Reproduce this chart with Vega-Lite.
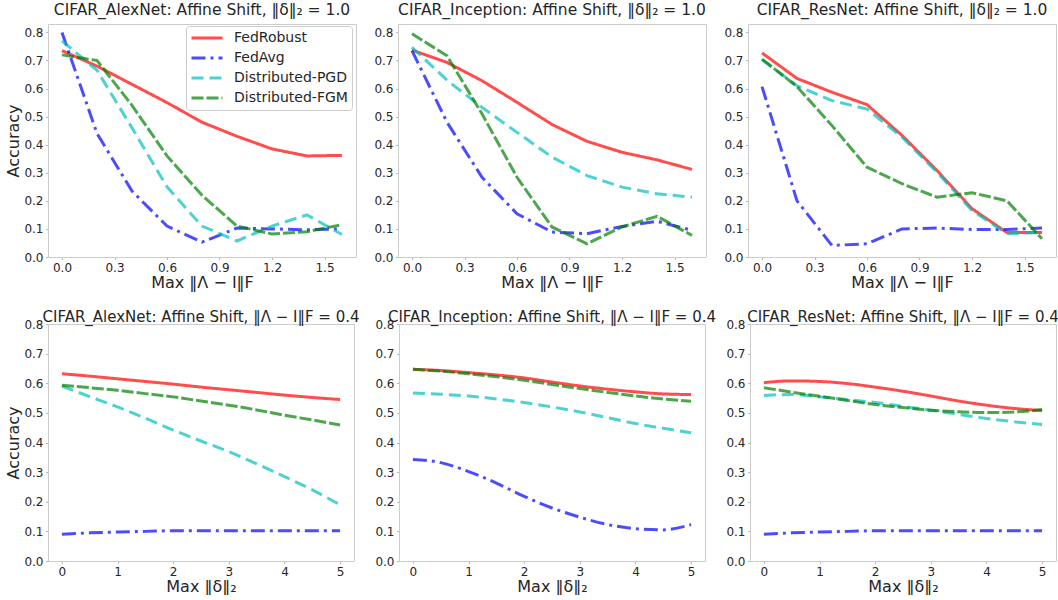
{
  "$schema": "https://vega.github.io/schema/vega-lite/v6.json",
  "background": "white",
  "padding": {"left": 5, "top": 2, "right": 0, "bottom": 0},
  "config": {
    "font": "DejaVu Sans",
    "view": {"stroke": "#cccccc", "strokeWidth": 1},
    "axis": {"domain": false, "grid": false, "ticks": true, "tickColor": "#bbbbbb", "tickSize": 2.5, "labelFontSize": 12, "labelColor": "#262626", "labelPadding": 2.5, "titleFontSize": 16, "titleFontWeight": "normal", "titleColor": "#262626"},
    "axisX": {"titlePadding": 1, "labelFlush": false},
    "axisY": {"titlePadding": 2, "labelFlush": false},
    "title": {"fontSize": 15.5, "fontWeight": "normal", "color": "#262626", "offset": 6},
    "line": {"strokeWidth": 3, "opacity": 0.7}
  },
  "data": {"values": [
    {"panel":"A1","method":"FedRobust","x":0,"acc":0.735},{"panel":"A1","method":"FedRobust","x":0.2,"acc":0.68},{"panel":"A1","method":"FedRobust","x":0.4,"acc":0.615},{"panel":"A1","method":"FedRobust","x":0.6,"acc":0.55},{"panel":"A1","method":"FedRobust","x":0.8,"acc":0.48},{"panel":"A1","method":"FedRobust","x":1.0,"acc":0.43},{"panel":"A1","method":"FedRobust","x":1.2,"acc":0.385},{"panel":"A1","method":"FedRobust","x":1.4,"acc":0.36},{"panel":"A1","method":"FedRobust","x":1.6,"acc":0.362},
    {"panel":"A1","method":"FedAvg","x":0,"acc":0.8},{"panel":"A1","method":"FedAvg","x":0.2,"acc":0.44},{"panel":"A1","method":"FedAvg","x":0.4,"acc":0.235},{"panel":"A1","method":"FedAvg","x":0.6,"acc":0.11},{"panel":"A1","method":"FedAvg","x":0.8,"acc":0.053},{"panel":"A1","method":"FedAvg","x":1.0,"acc":0.103},{"panel":"A1","method":"FedAvg","x":1.2,"acc":0.1},{"panel":"A1","method":"FedAvg","x":1.4,"acc":0.097},{"panel":"A1","method":"FedAvg","x":1.6,"acc":0.1},
    {"panel":"A1","method":"Distributed-PGD","x":0,"acc":0.77},{"panel":"A1","method":"Distributed-PGD","x":0.2,"acc":0.665},{"panel":"A1","method":"Distributed-PGD","x":0.4,"acc":0.46},{"panel":"A1","method":"Distributed-PGD","x":0.6,"acc":0.25},{"panel":"A1","method":"Distributed-PGD","x":0.8,"acc":0.11},{"panel":"A1","method":"Distributed-PGD","x":1.0,"acc":0.057},{"panel":"A1","method":"Distributed-PGD","x":1.2,"acc":0.11},{"panel":"A1","method":"Distributed-PGD","x":1.4,"acc":0.15},{"panel":"A1","method":"Distributed-PGD","x":1.6,"acc":0.08},
    {"panel":"A1","method":"Distributed-FGM","x":0,"acc":0.72},{"panel":"A1","method":"Distributed-FGM","x":0.2,"acc":0.7},{"panel":"A1","method":"Distributed-FGM","x":0.4,"acc":0.54},{"panel":"A1","method":"Distributed-FGM","x":0.6,"acc":0.36},{"panel":"A1","method":"Distributed-FGM","x":0.8,"acc":0.22},{"panel":"A1","method":"Distributed-FGM","x":1.0,"acc":0.11},{"panel":"A1","method":"Distributed-FGM","x":1.2,"acc":0.082},{"panel":"A1","method":"Distributed-FGM","x":1.4,"acc":0.09},{"panel":"A1","method":"Distributed-FGM","x":1.6,"acc":0.115},

    {"panel":"I1","method":"FedRobust","x":0,"acc":0.737},{"panel":"I1","method":"FedRobust","x":0.2,"acc":0.693},{"panel":"I1","method":"FedRobust","x":0.4,"acc":0.628},{"panel":"I1","method":"FedRobust","x":0.6,"acc":0.551},{"panel":"I1","method":"FedRobust","x":0.8,"acc":0.472},{"panel":"I1","method":"FedRobust","x":1.0,"acc":0.412},{"panel":"I1","method":"FedRobust","x":1.2,"acc":0.373},{"panel":"I1","method":"FedRobust","x":1.4,"acc":0.346},{"panel":"I1","method":"FedRobust","x":1.6,"acc":0.312},
    {"panel":"I1","method":"FedAvg","x":0,"acc":0.735},{"panel":"I1","method":"FedAvg","x":0.2,"acc":0.48},{"panel":"I1","method":"FedAvg","x":0.4,"acc":0.284},{"panel":"I1","method":"FedAvg","x":0.6,"acc":0.154},{"panel":"I1","method":"FedAvg","x":0.8,"acc":0.089},{"panel":"I1","method":"FedAvg","x":1.0,"acc":0.083},{"panel":"I1","method":"FedAvg","x":1.2,"acc":0.109},{"panel":"I1","method":"FedAvg","x":1.4,"acc":0.127},{"panel":"I1","method":"FedAvg","x":1.6,"acc":0.095},
    {"panel":"I1","method":"Distributed-PGD","x":0,"acc":0.747},{"panel":"I1","method":"Distributed-PGD","x":0.2,"acc":0.63},{"panel":"I1","method":"Distributed-PGD","x":0.4,"acc":0.533},{"panel":"I1","method":"Distributed-PGD","x":0.6,"acc":0.444},{"panel":"I1","method":"Distributed-PGD","x":0.8,"acc":0.356},{"panel":"I1","method":"Distributed-PGD","x":1.0,"acc":0.29},{"panel":"I1","method":"Distributed-PGD","x":1.2,"acc":0.249},{"panel":"I1","method":"Distributed-PGD","x":1.4,"acc":0.225},{"panel":"I1","method":"Distributed-PGD","x":1.6,"acc":0.213},
    {"panel":"I1","method":"Distributed-FGM","x":0,"acc":0.795},{"panel":"I1","method":"Distributed-FGM","x":0.2,"acc":0.717},{"panel":"I1","method":"Distributed-FGM","x":0.4,"acc":0.51},{"panel":"I1","method":"Distributed-FGM","x":0.6,"acc":0.284},{"panel":"I1","method":"Distributed-FGM","x":0.8,"acc":0.107},{"panel":"I1","method":"Distributed-FGM","x":1.0,"acc":0.047},{"panel":"I1","method":"Distributed-FGM","x":1.2,"acc":0.107},{"panel":"I1","method":"Distributed-FGM","x":1.4,"acc":0.145},{"panel":"I1","method":"Distributed-FGM","x":1.6,"acc":0.077},

    {"panel":"R1","method":"FedRobust","x":0,"acc":0.727},{"panel":"R1","method":"FedRobust","x":0.2,"acc":0.636},{"panel":"R1","method":"FedRobust","x":0.4,"acc":0.587},{"panel":"R1","method":"FedRobust","x":0.6,"acc":0.543},{"panel":"R1","method":"FedRobust","x":0.8,"acc":0.433},{"panel":"R1","method":"FedRobust","x":1.0,"acc":0.308},{"panel":"R1","method":"FedRobust","x":1.2,"acc":0.172},{"panel":"R1","method":"FedRobust","x":1.4,"acc":0.087},{"panel":"R1","method":"FedRobust","x":1.6,"acc":0.087},
    {"panel":"R1","method":"FedAvg","x":0,"acc":0.607},{"panel":"R1","method":"FedAvg","x":0.2,"acc":0.2},{"panel":"R1","method":"FedAvg","x":0.4,"acc":0.041},{"panel":"R1","method":"FedAvg","x":0.6,"acc":0.047},{"panel":"R1","method":"FedAvg","x":0.8,"acc":0.1},{"panel":"R1","method":"FedAvg","x":1.0,"acc":0.103},{"panel":"R1","method":"FedAvg","x":1.2,"acc":0.098},{"panel":"R1","method":"FedAvg","x":1.4,"acc":0.098},{"panel":"R1","method":"FedAvg","x":1.6,"acc":0.103},
    {"panel":"R1","method":"Distributed-PGD","x":0,"acc":0.703},{"panel":"R1","method":"Distributed-PGD","x":0.2,"acc":0.61},{"panel":"R1","method":"Distributed-PGD","x":0.4,"acc":0.557},{"panel":"R1","method":"Distributed-PGD","x":0.6,"acc":0.527},{"panel":"R1","method":"Distributed-PGD","x":0.8,"acc":0.427},{"panel":"R1","method":"Distributed-PGD","x":1.0,"acc":0.302},{"panel":"R1","method":"Distributed-PGD","x":1.2,"acc":0.166},{"panel":"R1","method":"Distributed-PGD","x":1.4,"acc":0.083},{"panel":"R1","method":"Distributed-PGD","x":1.6,"acc":0.087},
    {"panel":"R1","method":"Distributed-FGM","x":0,"acc":0.705},{"panel":"R1","method":"Distributed-FGM","x":0.2,"acc":0.607},{"panel":"R1","method":"Distributed-FGM","x":0.4,"acc":0.468},{"panel":"R1","method":"Distributed-FGM","x":0.6,"acc":0.32},{"panel":"R1","method":"Distributed-FGM","x":0.8,"acc":0.261},{"panel":"R1","method":"Distributed-FGM","x":1.0,"acc":0.213},{"panel":"R1","method":"Distributed-FGM","x":1.2,"acc":0.229},{"panel":"R1","method":"Distributed-FGM","x":1.4,"acc":0.2},{"panel":"R1","method":"Distributed-FGM","x":1.6,"acc":0.065},

    {"panel":"A2","method":"FedRobust","x":0,"acc":0.632},{"panel":"A2","method":"FedRobust","x":0.5,"acc":0.624},{"panel":"A2","method":"FedRobust","x":1,"acc":0.615},{"panel":"A2","method":"FedRobust","x":1.5,"acc":0.606},{"panel":"A2","method":"FedRobust","x":2,"acc":0.597},{"panel":"A2","method":"FedRobust","x":2.5,"acc":0.587},{"panel":"A2","method":"FedRobust","x":3,"acc":0.578},{"panel":"A2","method":"FedRobust","x":3.5,"acc":0.569},{"panel":"A2","method":"FedRobust","x":4,"acc":0.56},{"panel":"A2","method":"FedRobust","x":4.5,"acc":0.552},{"panel":"A2","method":"FedRobust","x":5,"acc":0.545},
    {"panel":"A2","method":"FedAvg","x":0,"acc":0.09},{"panel":"A2","method":"FedAvg","x":0.5,"acc":0.095},{"panel":"A2","method":"FedAvg","x":1,"acc":0.098},{"panel":"A2","method":"FedAvg","x":1.5,"acc":0.1},{"panel":"A2","method":"FedAvg","x":2,"acc":0.102},{"panel":"A2","method":"FedAvg","x":2.5,"acc":0.102},{"panel":"A2","method":"FedAvg","x":3,"acc":0.102},{"panel":"A2","method":"FedAvg","x":3.5,"acc":0.102},{"panel":"A2","method":"FedAvg","x":4,"acc":0.102},{"panel":"A2","method":"FedAvg","x":4.5,"acc":0.102},{"panel":"A2","method":"FedAvg","x":5,"acc":0.102},
    {"panel":"A2","method":"Distributed-PGD","x":0,"acc":0.59},{"panel":"A2","method":"Distributed-PGD","x":0.5,"acc":0.555},{"panel":"A2","method":"Distributed-PGD","x":1,"acc":0.52},{"panel":"A2","method":"Distributed-PGD","x":1.5,"acc":0.482},{"panel":"A2","method":"Distributed-PGD","x":2,"acc":0.442},{"panel":"A2","method":"Distributed-PGD","x":2.5,"acc":0.405},{"panel":"A2","method":"Distributed-PGD","x":3,"acc":0.369},{"panel":"A2","method":"Distributed-PGD","x":3.5,"acc":0.328},{"panel":"A2","method":"Distributed-PGD","x":4,"acc":0.285},{"panel":"A2","method":"Distributed-PGD","x":4.5,"acc":0.24},{"panel":"A2","method":"Distributed-PGD","x":5,"acc":0.19},
    {"panel":"A2","method":"Distributed-FGM","x":0,"acc":0.593},{"panel":"A2","method":"Distributed-FGM","x":0.5,"acc":0.585},{"panel":"A2","method":"Distributed-FGM","x":1,"acc":0.576},{"panel":"A2","method":"Distributed-FGM","x":1.5,"acc":0.565},{"panel":"A2","method":"Distributed-FGM","x":2,"acc":0.554},{"panel":"A2","method":"Distributed-FGM","x":2.5,"acc":0.54},{"panel":"A2","method":"Distributed-FGM","x":3,"acc":0.526},{"panel":"A2","method":"Distributed-FGM","x":3.5,"acc":0.51},{"panel":"A2","method":"Distributed-FGM","x":4,"acc":0.492},{"panel":"A2","method":"Distributed-FGM","x":4.5,"acc":0.476},{"panel":"A2","method":"Distributed-FGM","x":5,"acc":0.459},

    {"panel":"I2","method":"FedRobust","x":0,"acc":0.647},{"panel":"I2","method":"FedRobust","x":0.5,"acc":0.643},{"panel":"I2","method":"FedRobust","x":1,"acc":0.636},{"panel":"I2","method":"FedRobust","x":1.5,"acc":0.628},{"panel":"I2","method":"FedRobust","x":2,"acc":0.618},{"panel":"I2","method":"FedRobust","x":2.5,"acc":0.604},{"panel":"I2","method":"FedRobust","x":3,"acc":0.591},{"panel":"I2","method":"FedRobust","x":3.5,"acc":0.58},{"panel":"I2","method":"FedRobust","x":4,"acc":0.571},{"panel":"I2","method":"FedRobust","x":4.5,"acc":0.564},{"panel":"I2","method":"FedRobust","x":5,"acc":0.562},
    {"panel":"I2","method":"FedAvg","x":0,"acc":0.343},{"panel":"I2","method":"FedAvg","x":0.5,"acc":0.332},{"panel":"I2","method":"FedAvg","x":1,"acc":0.302},{"panel":"I2","method":"FedAvg","x":1.5,"acc":0.263},{"panel":"I2","method":"FedAvg","x":2,"acc":0.218},{"panel":"I2","method":"FedAvg","x":2.5,"acc":0.179},{"panel":"I2","method":"FedAvg","x":3,"acc":0.148},{"panel":"I2","method":"FedAvg","x":3.5,"acc":0.123},{"panel":"I2","method":"FedAvg","x":4,"acc":0.109},{"panel":"I2","method":"FedAvg","x":4.5,"acc":0.105},{"panel":"I2","method":"FedAvg","x":5,"acc":0.123},
    {"panel":"I2","method":"Distributed-PGD","x":0,"acc":0.567},{"panel":"I2","method":"Distributed-PGD","x":0.5,"acc":0.563},{"panel":"I2","method":"Distributed-PGD","x":1,"acc":0.557},{"panel":"I2","method":"Distributed-PGD","x":1.5,"acc":0.547},{"panel":"I2","method":"Distributed-PGD","x":2,"acc":0.535},{"panel":"I2","method":"Distributed-PGD","x":2.5,"acc":0.52},{"panel":"I2","method":"Distributed-PGD","x":3,"acc":0.503},{"panel":"I2","method":"Distributed-PGD","x":3.5,"acc":0.484},{"panel":"I2","method":"Distributed-PGD","x":4,"acc":0.464},{"panel":"I2","method":"Distributed-PGD","x":4.5,"acc":0.448},{"panel":"I2","method":"Distributed-PGD","x":5,"acc":0.433},
    {"panel":"I2","method":"Distributed-FGM","x":0,"acc":0.647},{"panel":"I2","method":"Distributed-FGM","x":0.5,"acc":0.641},{"panel":"I2","method":"Distributed-FGM","x":1,"acc":0.632},{"panel":"I2","method":"Distributed-FGM","x":1.5,"acc":0.622},{"panel":"I2","method":"Distributed-FGM","x":2,"acc":0.61},{"panel":"I2","method":"Distributed-FGM","x":2.5,"acc":0.596},{"panel":"I2","method":"Distributed-FGM","x":3,"acc":0.582},{"panel":"I2","method":"Distributed-FGM","x":3.5,"acc":0.569},{"panel":"I2","method":"Distributed-FGM","x":4,"acc":0.557},{"panel":"I2","method":"Distributed-FGM","x":4.5,"acc":0.547},{"panel":"I2","method":"Distributed-FGM","x":5,"acc":0.539},

    {"panel":"R2","method":"FedRobust","x":0,"acc":0.602},{"panel":"R2","method":"FedRobust","x":0.5,"acc":0.608},{"panel":"R2","method":"FedRobust","x":1,"acc":0.606},{"panel":"R2","method":"FedRobust","x":1.5,"acc":0.599},{"panel":"R2","method":"FedRobust","x":2,"acc":0.587},{"panel":"R2","method":"FedRobust","x":2.5,"acc":0.573},{"panel":"R2","method":"FedRobust","x":3,"acc":0.557},{"panel":"R2","method":"FedRobust","x":3.5,"acc":0.54},{"panel":"R2","method":"FedRobust","x":4,"acc":0.526},{"panel":"R2","method":"FedRobust","x":4.5,"acc":0.515},{"panel":"R2","method":"FedRobust","x":5,"acc":0.508},
    {"panel":"R2","method":"FedAvg","x":0,"acc":0.09},{"panel":"R2","method":"FedAvg","x":0.5,"acc":0.095},{"panel":"R2","method":"FedAvg","x":1,"acc":0.098},{"panel":"R2","method":"FedAvg","x":1.5,"acc":0.1},{"panel":"R2","method":"FedAvg","x":2,"acc":0.102},{"panel":"R2","method":"FedAvg","x":2.5,"acc":0.102},{"panel":"R2","method":"FedAvg","x":3,"acc":0.102},{"panel":"R2","method":"FedAvg","x":3.5,"acc":0.102},{"panel":"R2","method":"FedAvg","x":4,"acc":0.102},{"panel":"R2","method":"FedAvg","x":4.5,"acc":0.102},{"panel":"R2","method":"FedAvg","x":5,"acc":0.102},
    {"panel":"R2","method":"Distributed-PGD","x":0,"acc":0.559},{"panel":"R2","method":"Distributed-PGD","x":0.5,"acc":0.562},{"panel":"R2","method":"Distributed-PGD","x":1,"acc":0.554},{"panel":"R2","method":"Distributed-PGD","x":1.5,"acc":0.545},{"panel":"R2","method":"Distributed-PGD","x":2,"acc":0.535},{"panel":"R2","method":"Distributed-PGD","x":2.5,"acc":0.522},{"panel":"R2","method":"Distributed-PGD","x":3,"acc":0.509},{"panel":"R2","method":"Distributed-PGD","x":3.5,"acc":0.495},{"panel":"R2","method":"Distributed-PGD","x":4,"acc":0.481},{"panel":"R2","method":"Distributed-PGD","x":4.5,"acc":0.47},{"panel":"R2","method":"Distributed-PGD","x":5,"acc":0.461},
    {"panel":"R2","method":"Distributed-FGM","x":0,"acc":0.585},{"panel":"R2","method":"Distributed-FGM","x":0.5,"acc":0.57},{"panel":"R2","method":"Distributed-FGM","x":1,"acc":0.556},{"panel":"R2","method":"Distributed-FGM","x":1.5,"acc":0.542},{"panel":"R2","method":"Distributed-FGM","x":2,"acc":0.528},{"panel":"R2","method":"Distributed-FGM","x":2.5,"acc":0.518},{"panel":"R2","method":"Distributed-FGM","x":3,"acc":0.509},{"panel":"R2","method":"Distributed-FGM","x":3.5,"acc":0.504},{"panel":"R2","method":"Distributed-FGM","x":4,"acc":0.501},{"panel":"R2","method":"Distributed-FGM","x":4.5,"acc":0.503},{"panel":"R2","method":"Distributed-FGM","x":5,"acc":0.511}
  ]},
  "vconcat": [
    {
      "hconcat": [
        {
          "width": 308, "height": 233,
          "title": "CIFAR_AlexNet: Affine Shift, ‖δ‖₂ = 1.0",
          "transform": [{"filter": "datum.panel == 'A1'"}],
          "mark": {"type": "line"},
          "encoding": {
            "x": {"field": "x", "type": "quantitative", "scale": {"domain": [-0.08, 1.68], "nice": false, "zero": false}, "axis": {"values": [0, 0.3, 0.6, 0.9, 1.2, 1.5], "format": ".1f", "title": "Max ‖Λ − I‖F"}},
            "y": {"field": "acc", "type": "quantitative", "scale": {"domain": [0, 0.83], "nice": false}, "axis": {"values": [0, 0.1, 0.2, 0.3, 0.4, 0.5, 0.6, 0.7, 0.8], "format": ".1f", "title": "Accuracy"}},
            "color": {"field": "method", "type": "nominal", "scale": {"domain": ["FedRobust", "FedAvg", "Distributed-PGD", "Distributed-FGM"], "range": ["#ff0000", "#0000ff", "#00bfbf", "#008000"]},
              "legend": {"title": null, "orient": "none", "legendX": 138, "legendY": 2, "padding": 4, "fillColor": "white", "strokeColor": "#cccccc", "cornerRadius": 3, "symbolType": "stroke", "symbolSize": 961, "symbolStrokeWidth": 3, "symbolOpacity": 0.7, "labelFontSize": 14, "labelColor": "#262626", "labelOffset": 10, "rowPadding": 4, "clipHeight": 16}},
            "strokeDash": {"field": "method", "type": "nominal", "scale": {"domain": ["FedRobust", "FedAvg", "Distributed-PGD", "Distributed-FGM"], "range": [[1, 0], [14, 5, 3, 5], [12, 6], [12, 3]]},
              "legend": {"title": null, "orient": "none", "legendX": 138, "legendY": 2, "padding": 4, "fillColor": "white", "strokeColor": "#cccccc", "cornerRadius": 3, "symbolType": "stroke", "symbolSize": 961, "symbolStrokeWidth": 3, "symbolOpacity": 0.7, "labelFontSize": 14, "labelColor": "#262626", "labelOffset": 10, "rowPadding": 4, "clipHeight": 16}}
          }
        },
        {
          "width": 308, "height": 233,
          "title": "CIFAR_Inception: Affine Shift, ‖δ‖₂ = 1.0",
          "transform": [{"filter": "datum.panel == 'I1'"}],
          "mark": {"type": "line"},
          "encoding": {
            "x": {"field": "x", "type": "quantitative", "scale": {"domain": [-0.08, 1.68], "nice": false, "zero": false}, "axis": {"values": [0, 0.3, 0.6, 0.9, 1.2, 1.5], "format": ".1f", "title": "Max ‖Λ − I‖F"}},
            "y": {"field": "acc", "type": "quantitative", "scale": {"domain": [0, 0.83], "nice": false}, "axis": {"values": [0, 0.1, 0.2, 0.3, 0.4, 0.5, 0.6, 0.7, 0.8], "format": ".1f", "title": null}},
            "color": {"field": "method", "type": "nominal", "scale": {"domain": ["FedRobust", "FedAvg", "Distributed-PGD", "Distributed-FGM"], "range": ["#ff0000", "#0000ff", "#00bfbf", "#008000"]}, "legend": null},
            "strokeDash": {"field": "method", "type": "nominal", "scale": {"domain": ["FedRobust", "FedAvg", "Distributed-PGD", "Distributed-FGM"], "range": [[1, 0], [14, 5, 3, 5], [12, 6], [12, 3]]}, "legend": null}
          }
        },
        {
          "width": 308, "height": 233,
          "title": "CIFAR_ResNet: Affine Shift, ‖δ‖₂ = 1.0",
          "transform": [{"filter": "datum.panel == 'R1'"}],
          "mark": {"type": "line"},
          "encoding": {
            "x": {"field": "x", "type": "quantitative", "scale": {"domain": [-0.08, 1.68], "nice": false, "zero": false}, "axis": {"values": [0, 0.3, 0.6, 0.9, 1.2, 1.5], "format": ".1f", "title": "Max ‖Λ − I‖F"}},
            "y": {"field": "acc", "type": "quantitative", "scale": {"domain": [0, 0.83], "nice": false}, "axis": {"values": [0, 0.1, 0.2, 0.3, 0.4, 0.5, 0.6, 0.7, 0.8], "format": ".1f", "title": null}},
            "color": {"field": "method", "type": "nominal", "scale": {"domain": ["FedRobust", "FedAvg", "Distributed-PGD", "Distributed-FGM"], "range": ["#ff0000", "#0000ff", "#00bfbf", "#008000"]}, "legend": null},
            "strokeDash": {"field": "method", "type": "nominal", "scale": {"domain": ["FedRobust", "FedAvg", "Distributed-PGD", "Distributed-FGM"], "range": [[1, 0], [14, 5, 3, 5], [12, 6], [12, 3]]}, "legend": null}
          }
        }
      ],
      "spacing": 42,
      "bounds": "flush",
      "resolve": {"scale": {"color": "independent", "strokeDash": "independent"}, "legend": {"color": "independent", "strokeDash": "independent"}}
    },
    {
      "hconcat": [
        {
          "width": 306, "height": 237,
          "title": {"text": "CIFAR_AlexNet: Affine Shift, ‖Λ − I‖F = 0.4", "fontSize": 15, "offset": -7},
          "transform": [{"filter": "datum.panel == 'A2'"}],
          "mark": {"type": "line", "interpolate": "monotone"},
          "encoding": {
            "x": {"field": "x", "type": "quantitative", "scale": {"domain": [-0.25, 5.25], "nice": false, "zero": false}, "axis": {"values": [0, 1, 2, 3, 4, 5], "format": "d", "title": "Max ‖δ‖₂"}},
            "y": {"field": "acc", "type": "quantitative", "scale": {"domain": [0, 0.8], "nice": false}, "axis": {"values": [0, 0.1, 0.2, 0.3, 0.4, 0.5, 0.6, 0.7, 0.8], "format": ".1f", "title": "Accuracy"}},
            "color": {"field": "method", "type": "nominal", "scale": {"domain": ["FedRobust", "FedAvg", "Distributed-PGD", "Distributed-FGM"], "range": ["#ff0000", "#0000ff", "#00bfbf", "#008000"]}, "legend": null},
            "strokeDash": {"field": "method", "type": "nominal", "scale": {"domain": ["FedRobust", "FedAvg", "Distributed-PGD", "Distributed-FGM"], "range": [[1, 0], [14, 5, 3, 5], [12, 6], [12, 3]]}, "legend": null}
          }
        },
        {
          "width": 306, "height": 237,
          "title": {"text": "CIFAR_Inception: Affine Shift, ‖Λ − I‖F = 0.4", "fontSize": 15, "offset": -7},
          "transform": [{"filter": "datum.panel == 'I2'"}],
          "mark": {"type": "line", "interpolate": "monotone"},
          "encoding": {
            "x": {"field": "x", "type": "quantitative", "scale": {"domain": [-0.25, 5.25], "nice": false, "zero": false}, "axis": {"values": [0, 1, 2, 3, 4, 5], "format": "d", "title": "Max ‖δ‖₂"}},
            "y": {"field": "acc", "type": "quantitative", "scale": {"domain": [0, 0.8], "nice": false}, "axis": {"values": [0, 0.1, 0.2, 0.3, 0.4, 0.5, 0.6, 0.7, 0.8], "format": ".1f", "title": null}},
            "color": {"field": "method", "type": "nominal", "scale": {"domain": ["FedRobust", "FedAvg", "Distributed-PGD", "Distributed-FGM"], "range": ["#ff0000", "#0000ff", "#00bfbf", "#008000"]}, "legend": null},
            "strokeDash": {"field": "method", "type": "nominal", "scale": {"domain": ["FedRobust", "FedAvg", "Distributed-PGD", "Distributed-FGM"], "range": [[1, 0], [14, 5, 3, 5], [12, 6], [12, 3]]}, "legend": null}
          }
        },
        {
          "width": 306, "height": 237,
          "title": {"text": "CIFAR_ResNet: Affine Shift, ‖Λ − I‖F = 0.4", "fontSize": 15, "offset": -7},
          "transform": [{"filter": "datum.panel == 'R2'"}],
          "mark": {"type": "line", "interpolate": "monotone"},
          "encoding": {
            "x": {"field": "x", "type": "quantitative", "scale": {"domain": [-0.25, 5.25], "nice": false, "zero": false}, "axis": {"values": [0, 1, 2, 3, 4, 5], "format": "d", "title": "Max ‖δ‖₂"}},
            "y": {"field": "acc", "type": "quantitative", "scale": {"domain": [0, 0.8], "nice": false}, "axis": {"values": [0, 0.1, 0.2, 0.3, 0.4, 0.5, 0.6, 0.7, 0.8], "format": ".1f", "title": null}},
            "color": {"field": "method", "type": "nominal", "scale": {"domain": ["FedRobust", "FedAvg", "Distributed-PGD", "Distributed-FGM"], "range": ["#ff0000", "#0000ff", "#00bfbf", "#008000"]}, "legend": null},
            "strokeDash": {"field": "method", "type": "nominal", "scale": {"domain": ["FedRobust", "FedAvg", "Distributed-PGD", "Distributed-FGM"], "range": [[1, 0], [14, 5, 3, 5], [12, 6], [12, 3]]}, "legend": null}
          }
        }
      ],
      "spacing": 45,
      "bounds": "flush",
      "resolve": {"scale": {"color": "independent", "strokeDash": "independent"}, "legend": {"color": "independent", "strokeDash": "independent"}}
    }
  ],
  "spacing": 18,
  "resolve": {"scale": {"color": "independent", "strokeDash": "independent"}, "legend": {"color": "independent", "strokeDash": "independent"}}
}
